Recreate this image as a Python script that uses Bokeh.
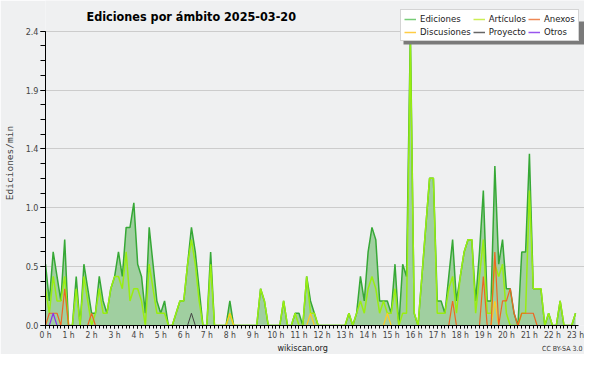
from bokeh.plotting import figure
from bokeh.models import (Range1d, FixedTicker, Legend, LegendItem, Label, ColumnDataSource, Title,
                          BoxAnnotation)
from bokeh.embed import file_html
from bokeh.resources import INLINE

# ---- data: edits per minute, 10-minute bins from 00:00 to 23:00 ----
ediciones = [0.5, 0.2, 0.6, 0.4, 0.2, 0.7, 0, 0, 0.4, 0, 0.5, 0.3, 0.1, 0.1, 0.4, 0.2, 0.1, 0.3, 0.4, 0.6,
             0.4, 0.8, 0.8, 1.0, 0.5, 0.4, 0.1, 0.8, 0.5, 0.2, 0.1, 0.2, 0, 0, 0.1, 0.2, 0.2, 0.5, 0.8, 0.6,
             0.3, 0, 0, 0.6, 0, 0, 0, 0, 0.2, 0, 0, 0, 0, 0, 0, 0, 0.3, 0.2, 0, 0,
             0, 0, 0.2, 0, 0, 0.1, 0.1, 0, 0.4, 0.2, 0.1, 0, 0, 0, 0, 0, 0, 0, 0, 0.1,
             0, 0.1, 0.4, 0.2, 0.6, 0.8, 0.7, 0.2, 0.2, 0.2, 0.1, 0.5, 0, 0.5, 0.4, 2.4, 0.1, 0, 0.4, 0.8,
             1.2, 1.2, 0.2, 0.2, 0.1, 0.4, 0.7, 0.2, 0.4, 0.6, 0.7, 0.7, 0.2, 0.6, 1.1, 0.2, 0.2, 1.3, 0.5, 0.7,
             0.3, 0.3, 0.1, 0, 0.6, 0.6, 1.4, 0.3, 0.3, 0.3, 0, 0.1, 0, 0, 0.2, 0, 0, 0, 0.1]
articulos = [0.3, 0.1, 0.4, 0.2, 0.2, 0.4, 0, 0, 0.3, 0, 0.4, 0.2, 0, 0.1, 0.3, 0.1, 0.1, 0.3, 0.4, 0.4,
             0.3, 0.6, 0.2, 0.3, 0.3, 0.2, 0, 0.5, 0.3, 0.1, 0.1, 0.1, 0, 0, 0.1, 0.2, 0.2, 0.5, 0.7, 0.5,
             0.2, 0, 0, 0.5, 0, 0, 0, 0, 0.1, 0, 0, 0, 0, 0, 0, 0, 0.3, 0.2, 0, 0,
             0, 0, 0.2, 0, 0, 0.1, 0, 0, 0.4, 0.1, 0.1, 0, 0, 0, 0, 0, 0, 0, 0, 0.1,
             0, 0.1, 0.2, 0.1, 0.3, 0.4, 0.3, 0.1, 0.2, 0.1, 0.1, 0.3, 0, 0.1, 0.1, 2.3, 0.1, 0, 0.4, 0.8,
             1.2, 1.2, 0.1, 0.1, 0.1, 0.3, 0.4, 0.1, 0.4, 0.6, 0.7, 0.7, 0.1, 0.4, 0.7, 0.1, 0.1, 0.5, 0.4, 0.5,
             0.1, 0, 0, 0, 0.1, 0.1, 1.1, 0.3, 0.3, 0.3, 0, 0.1, 0, 0, 0.2, 0, 0, 0, 0.1]
anexos = [0, 0.1, 0.1, 0.1, 0, 0.3, 0, 0, 0, 0, 0, 0, 0.1, 0, 0, 0, 0, 0, 0, 0,
          0, 0, 0, 0, 0, 0, 0, 0, 0, 0, 0, 0, 0, 0, 0, 0, 0, 0, 0, 0,
          0, 0, 0, 0, 0, 0, 0, 0, 0, 0, 0, 0, 0, 0, 0, 0, 0, 0, 0, 0,
          0, 0, 0, 0, 0, 0, 0, 0, 0, 0, 0, 0, 0, 0, 0, 0, 0, 0, 0, 0,
          0, 0, 0, 0, 0, 0, 0, 0, 0, 0, 0, 0, 0, 0, 0, 0, 0, 0, 0, 0,
          0, 0, 0, 0, 0, 0, 0.2, 0, 0, 0, 0, 0, 0, 0, 0.4, 0, 0, 0.6, 0, 0.2,
          0.2, 0.3, 0.1, 0, 0.1, 0.1, 0.1, 0.1, 0, 0, 0, 0, 0, 0, 0, 0, 0, 0, 0]
discusiones = [0] * 139
discusiones[48] = 0.1
discusiones[69] = 0.1
discusiones[89] = 0.1
discusiones[117] = 0.2
proyecto = [0] * 139
proyecto[38] = 0.1
otros = [0] * 139
otros[2] = 0.1

minutes = list(range(0, 10 * len(ediciones), 10))
hours = [m / 60 for m in minutes]

hour_ticks = list(range(0, 24))
hour_labels = {h: f"{h} h" for h in hour_ticks}
minor_x = [m / 60 for m in range(0, 23 * 60 + 10, 10)]
y_ticks = [0, 0.48, 0.96, 1.44, 1.92, 2.4]
y_labels = ["0.0", "0.5", "1.0", "1.4", "1.9", "2.4"]
minor_y = [k * 0.12 for k in range(0, 21)]

src = ColumnDataSource(dict(h=hours, ed=ediciones, ar=articulos, an=anexos,
                            di=discusiones, pr=proyecto, ot=otros))

FONT = "DejaVu Sans Condensed, DejaVu Sans"
BG = "#eff0f1"
Y_TOP = 2.65
X_END = 23.39

p = figure(width=584, height=354, x_range=Range1d(0, X_END), y_range=Range1d(0, Y_TOP),
           output_backend="svg", toolbar_location=None,
           min_border_left=44, min_border_right=0, min_border_top=0, min_border_bottom=29)
p.border_fill_color = BG
p.background_fill_color = BG
p.outline_line_color = None
p.title.text = ""

p.varea(x="h", y1=0, y2="ed", source=src, fill_color="#a0cfa0", fill_alpha=1)
p.line("h", "ed", source=src, line_color="#36a836", line_width=1.5)
p.line("h", "ar", source=src, line_color="#99ee11", line_width=1.5)
p.line("h", "di", source=src, line_color="#ffcc22", line_width=1.2)
p.line("h", "pr", source=src, line_color="#444444", line_width=1)
p.line("h", "an", source=src, line_color="#ee6622", line_width=1.2)
p.line("h", "ot", source=src, line_color="#8833ee", line_width=1.2)

# axes
xa = p.xaxis[0]
xa.ticker = FixedTicker(ticks=hour_ticks, minor_ticks=minor_x)
xa.bounds = (0, 23.12)
xa.major_label_overrides = hour_labels
xa.major_label_text_font = FONT
xa.major_label_text_font_size = "8.5px"
xa.major_tick_out = 3
xa.major_tick_in = 0
xa.minor_tick_out = 3
xa.minor_tick_in = 0
xa.major_label_standoff = 1
xa.axis_line_color = "black"

ya = p.yaxis[0]
ya.ticker = FixedTicker(ticks=y_ticks, minor_ticks=minor_y)
ya.bounds = (0, 2.4)
ya.major_label_overrides = {t: l for t, l in zip(y_ticks, y_labels)}
ya.major_label_text_font = FONT
ya.major_label_text_font_size = "9px"
ya.major_tick_out = 5
ya.major_tick_in = 0
ya.minor_tick_out = 5
ya.minor_tick_in = 0
ya.major_label_standoff = 2
ya.axis_label = "Ediciones/min"
ya.axis_label_text_font = "DejaVu Sans Mono"
ya.axis_label_text_font_size = "9.5px"
ya.axis_label_text_font_style = "normal"
ya.axis_label_standoff = 8

p.xgrid.grid_line_color = None
p.ygrid.ticker = FixedTicker(ticks=y_ticks)
p.ygrid.grid_line_color = "#cccccc"

# title drawn inside the (extended) frame area
p.add_layout(Label(x=41, x_units="screen", y=2.52, text="Ediciones por ámbito  2025-03-20",
                   text_font=FONT, text_font_size="12.5px", text_font_style="bold",
                   text_baseline="alphabetic", text_color="black"))

# legend shadow + legend with its own swatches
LEG_X, LEG_Y = 355, 284
p.add_layout(BoxAnnotation(left=LEG_X + 3, right=LEG_X + 240, bottom=LEG_Y - 3, top=LEG_Y + 20,
                           left_units="screen", right_units="screen",
                           bottom_units="screen", top_units="screen",
                           fill_color="#7a7a7a", fill_alpha=1, line_color=None))
legend_entries = [("Ediciones", "#77cc77"), ("Artículos", "#ccee55"), ("Anexos", "#ee8855"),
                  ("Discusiones", "#ffcc44"), ("Proyecto", "#666666"), ("Otros", "#9955ee")]
items = []
for name, col in legend_entries:
    r = p.line(x=[float("nan")], y=[float("nan")], line_color=col, line_width=1.5)
    items.append(LegendItem(label=name, renderers=[r]))
legend = Legend(items=items, location=(LEG_X, LEG_Y), orientation="horizontal", nrows=2,
                label_text_font=FONT, label_text_font_size="9.5px", label_height=8,
                label_text_line_height=0.8, label_text_color="#222222",
                glyph_height=8, glyph_width=12, label_standoff=4, spacing=2,
                padding=3, margin=0, border_line_color="#aaaaaa",
                background_fill_color="white", background_fill_alpha=1)
p.add_layout(legend)

wk = Title(text="wikiscan.org", align="left", offset=232, text_font=FONT,
           text_font_size="9px", text_font_style="normal", vertical_align="top",
           standoff=0, text_color="#222222")
p.add_layout(wk, "below")
cc = Title(text="CC BY-SA 3.0", align="right", offset=2, text_font=FONT,
           text_font_size="7px", text_font_style="normal", vertical_align="top",
           standoff=-20, text_color="#333333")
p.add_layout(cc, "below")

open("out.html", "w").write(file_html(p, INLINE))
